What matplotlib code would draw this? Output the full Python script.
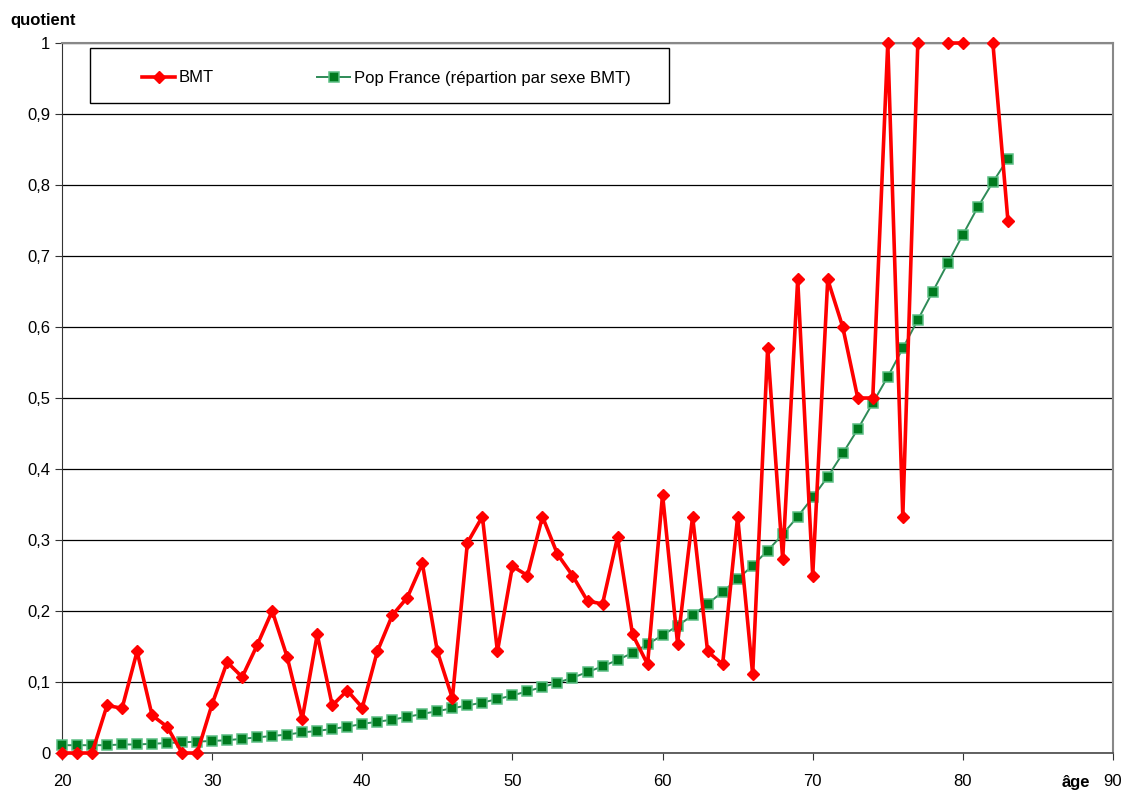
import numpy as np
import matplotlib
matplotlib.use("Agg")
from matplotlib import pyplot as plt
from matplotlib.patches import Rectangle

plt.rcParams["font.family"] = ["Liberation Sans", "DejaVu Sans"]

ages = list(range(20, 84))

# quotient BMT (NaN = pas de valeur)
bmt = [
    0, 0, 0, 0.067, 0.063, 0.143, 0.053, 0.037, 0, 0,
    0.069, 0.128, 0.107, 0.152, 0.2, 0.135, 0.048, 0.167, 0.067, 0.088,
    0.064, 0.143, 0.194, 0.219, 0.267, 0.143, 0.077, 0.296, 0.333, 0.143,
    0.263, 0.25, 0.333, 0.28, 0.25, 0.214, 0.21, 0.304, 0.167, 0.125,
    0.364, 0.154, 0.333, 0.143, 0.125, 0.333, 0.111, 0.571, 0.273, 0.667,
    0.25, 0.667, 0.6, 0.5, 0.5, 1.0, 0.333, 1.0, np.nan, 1.0,
    1.0, np.nan, 1.0, 0.75,
]

# quotient population France
pop_france = [
    0.011, 0.011, 0.011, 0.011, 0.012, 0.012, 0.013, 0.014, 0.015, 0.016,
    0.017, 0.018, 0.020, 0.022, 0.024, 0.026, 0.029, 0.031, 0.034, 0.037,
    0.041, 0.044, 0.047, 0.051, 0.055, 0.059, 0.063, 0.067, 0.071, 0.076,
    0.081, 0.087, 0.093, 0.099, 0.106, 0.114, 0.122, 0.131, 0.141, 0.153,
    0.166, 0.179, 0.194, 0.210, 0.227, 0.245, 0.264, 0.285, 0.308, 0.333,
    0.360, 0.389, 0.422, 0.456, 0.493, 0.530, 0.570, 0.610, 0.650, 0.690,
    0.730, 0.769, 0.804, 0.837,
]

x_ticks = [20, 30, 40, 50, 60, 70, 80, 90]
y_ticks = [0, 0.1, 0.2, 0.3, 0.4, 0.5, 0.6, 0.7, 0.8, 0.9, 1]
y_labels = ["0", "0,1", "0,2", "0,3", "0,4", "0,5", "0,6", "0,7", "0,8", "0,9", "1"]

W, H = 1126, 790
FS = 12
fig = plt.figure(figsize=(W / 100, H / 100), dpi=100)
ax = fig.add_axes([62 / W, 1 - 753 / H, (1113 - 62) / W, (753 - 43) / H])

ax.plot(ages, bmt, color="#ff0000", lw=2.6, marker="D", ms=6,
        mec="#ff0000", mfc="#ff0000", clip_on=False, zorder=4, label="BMT")
ax.plot(ages, pop_france, color="#2e8b57", lw=1.4, marker="s", ms=6.5,
        mfc="#007a1e", mec="#5cbf85", mew=1.1, clip_on=False, zorder=3,
        label="Pop France (répartion par sexe BMT)")

ax.set_xlim(20, 90)
ax.set_ylim(0, 1)
ax.set_xticks(x_ticks)
ax.set_yticks(y_ticks)
ax.set_yticklabels(y_labels)
ax.tick_params(axis="both", labelsize=FS, direction="out", length=5,
               color="#333333")
ax.tick_params(axis="x", pad=10)
ax.yaxis.grid(True, color="black", lw=0.9)
ax.set_axisbelow(True)

for side in ["top", "right"]:
    ax.spines[side].set_color("#888888")
    ax.spines[side].set_linewidth(1.5)
ax.spines["left"].set_color("#333333")
ax.spines["bottom"].set_color("#555555")
ax.spines["bottom"].set_linewidth(1.3)

# cadre de la légende, dessiné à part
fig.patches.append(Rectangle((90 / W, 1 - 103 / H), (669 - 90) / W, (103 - 48) / H,
                             transform=fig.transFigure, fill=True, fc="white",
                             ec="black", lw=1.0, zorder=5))

leg = fig.legend(*ax.get_legend_handles_labels(), loc="center left",
                 bbox_to_anchor=(142 / W, 1 - 78 / H), ncol=2, fontsize=FS,
                 frameon=False, borderpad=0, borderaxespad=0,
                 handlelength=2.0, handletextpad=0.2, columnspacing=6.2)
leg.set_zorder(6)

fig.text(10 / W, 1 - 20 / H, "quotient", fontsize=FS, fontweight="bold",
         va="center", ha="left")
fig.text(1062 / W, 1 - 782 / H, "âge", fontsize=FS, fontweight="bold",
         va="center", ha="left")

fig.savefig("out.png", dpi=100)
